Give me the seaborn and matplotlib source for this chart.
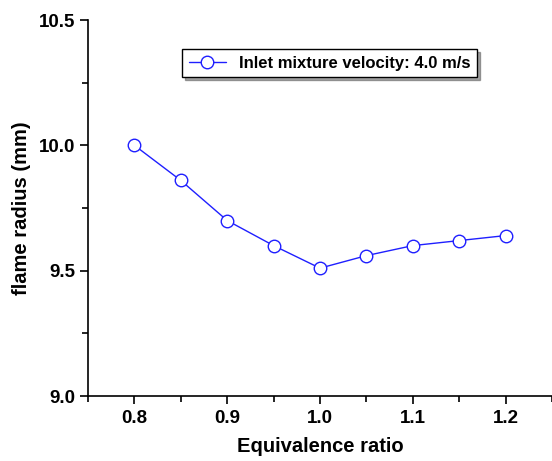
import matplotlib
matplotlib.use("Agg")
import matplotlib.pyplot as plt
import seaborn as sns
import pandas as pd
from matplotlib.ticker import MultipleLocator

phi = [0.8, 0.85, 0.9, 0.95, 1.0, 1.05, 1.1, 1.15, 1.2]
radius = [10.0, 9.86, 9.70, 9.60, 9.51, 9.56, 9.60, 9.62, 9.64]
label = "Inlet mixture velocity: 4.0 m/s"

sns.set_style("ticks")
plt.rcParams['font.family'] = ['Liberation Sans', 'DejaVu Sans']
plt.rcParams['font.weight'] = 'bold'
plt.rcParams['text.color'] = 'black'
plt.rcParams['axes.labelcolor'] = 'black'
plt.rcParams['xtick.color'] = 'black'
plt.rcParams['ytick.color'] = 'black'
plt.rcParams['axes.edgecolor'] = 'black'

df = pd.DataFrame({"phi": phi, "radius": radius})
fig = plt.figure(figsize=(5.52, 4.61), dpi=100)
ax = fig.add_axes([88/552, 65/461, 464/552, 376/461])
sns.lineplot(data=df, x="phi", y="radius", ax=ax, color="#1f1fff", lw=1.0,
             marker="o", markersize=9, markerfacecolor="white",
             markeredgecolor="#1f1fff", markeredgewidth=1.0, label=label)

ax.set_xlim(0.75, 1.25)
ax.set_ylim(9.0, 10.5)
ax.xaxis.set_major_locator(MultipleLocator(0.1))
ax.xaxis.set_minor_locator(MultipleLocator(0.05))
ax.yaxis.set_major_locator(MultipleLocator(0.5))
ax.yaxis.set_minor_locator(MultipleLocator(0.25))
ax.tick_params(which='major', direction='out', length=6, width=1.2, labelsize=13.5)
ax.tick_params(axis='x', which='major', pad=4)
ax.tick_params(axis='y', which='major', pad=3)
ax.tick_params(which='minor', direction='out', length=4, width=1.2)
for t in ax.get_xticklabels() + ax.get_yticklabels():
    t.set_fontweight('bold')
for s in ['top', 'right']:
    ax.spines[s].set_visible(False)
for s in ['left', 'bottom']:
    ax.spines[s].set_linewidth(1.2)
ax.set_xlabel("Equivalence ratio", fontsize=14.5, fontweight='bold', labelpad=7)
ax.set_ylabel("flame radius (mm)", fontsize=14.5, fontweight='bold', labelpad=6)

leg = ax.legend(loc='upper left', bbox_to_anchor=(0.185, 0.945), fontsize=12,
                frameon=True, fancybox=False, shadow=True, handlelength=2.2,
                borderpad=0.4, edgecolor='black')
leg.get_frame().set_linewidth(1.0)
for t in leg.get_texts():
    t.set_fontweight('bold')

fig.savefig("out.png", dpi=100)
